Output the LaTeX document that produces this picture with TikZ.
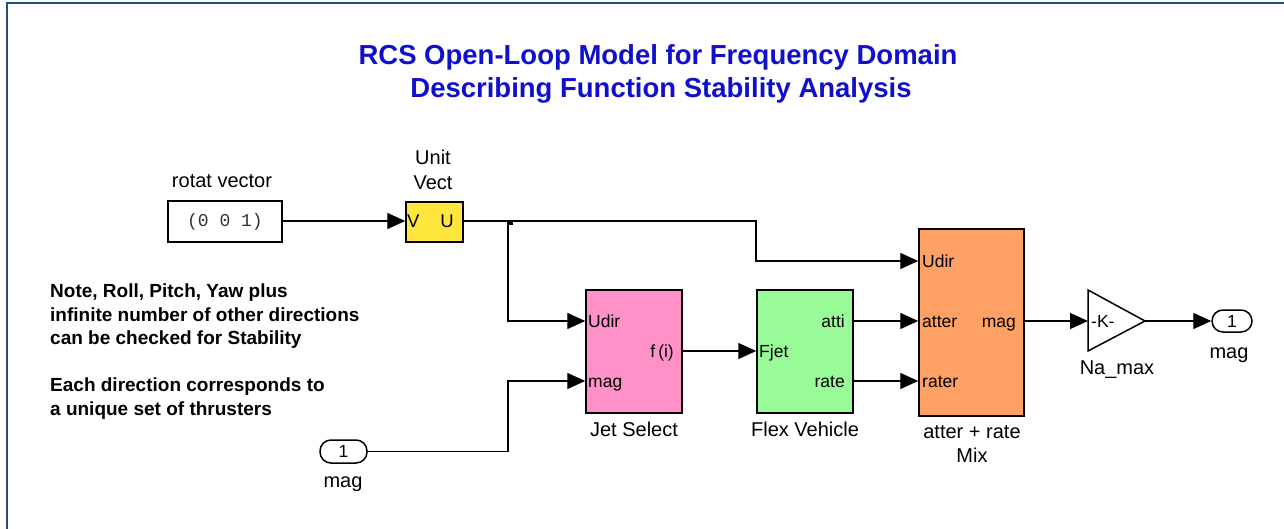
\documentclass[tikz,border=0pt]{standalone}
\usepackage{fontspec}
\setmainfont{Liberation Sans}
\setmonofont{Liberation Mono}
\usetikzlibrary{arrows.meta,calc}
\definecolor{framec}{RGB}{31,78,128}
\definecolor{titlec}{RGB}{16,16,204}
\definecolor{uvfill}{RGB}{255,230,60}
\definecolor{jsfill}{RGB}{255,145,200}
\definecolor{fvfill}{RGB}{152,251,152}
\definecolor{mixfill}{RGB}{255,160,100}

\begin{document}
\begin{tikzpicture}[x=1pt,y=-1pt,
  blk/.style={draw, line width=1.5pt, inner sep=0pt},
  wire/.style={line width=1.4pt},
  sig/.style={wire, -{Triangle[length=18pt,width=16pt]}},
  lbl/.style={inner sep=0pt, anchor=base, font=\fontsize{20}{24}\selectfont},
  port/.style={inner sep=0pt, text height=12pt, text depth=0pt, font=\fontsize{17.5}{20}\selectfont},
  note/.style={inner sep=0pt, anchor=base west, font=\fontsize{19}{23}\selectfont\bfseries},
  title/.style={inner sep=0pt, anchor=base, text=titlec, font=\fontsize{27.5}{32}\selectfont\bfseries},
  term/.style={draw, line width=1.5pt, rounded corners=11pt, inner sep=0pt,
    text height=12pt, text depth=0pt, font=\fontsize{17.5}{20}\selectfont},
]
\useasboundingbox (0,0) rectangle (1284,529);

% outer frame (open towards the right and bottom)
\draw[framec, line width=2.4pt] (7,540) -- (7,3) -- (1295,3);

% title
\node[title] (t1) at (658,65) {RCS Open-Loop Model for Frequency Domain};
\node[title] (t2) at (661,98) {Describing Function Stability Analysis};

% note text
\node[note] (n1) at (50,297) {Note, Roll, Pitch, Yaw plus};
\node[note] (n2) at (50,321) {infinite number of other directions};
\node[note] (n3) at (50,344) {can be checked for Stability};
\node[note] (n4) at (50,391) {Each direction corresponds to};
\node[note] (n5) at (50,415) {a unique set of thrusters};

% constant source
\node[blk, minimum width=114pt, minimum height=41pt, fill=white,
      font=\fontsize{18}{20}\ttfamily\selectfont, text=black!80] (cst) at (225,221.5) {(0 0 1)};
\node[lbl] (cstl) at (222,188) {rotat vector};

% unit vector block
\node[blk, fill=uvfill, minimum width=57pt, minimum height=40pt] (uv) at (434.5,222) {};
\node[port, anchor=west, font=\fontsize{18.5}{20}\selectfont] (uvV) at (407,222) {V};
\node[port, anchor=east, font=\fontsize{18.5}{20}\selectfont] (uvU) at (454,222) {U};
\node[lbl] (uvl1) at (433,165) {Unit};
\node[lbl] (uvl2) at (433,190) {Vect};

% jet select
\node[blk, fill=jsfill, minimum width=96pt, minimum height=123pt] (js) at (634,351.5) {};
\node[port, anchor=west] (jsU) at (588,321) {Udir};
\node[port, anchor=west] (jsM) at (588,381) {mag};
\node[port, anchor=east] (jsF) at (674,351) {f\,(i)};
\node[lbl] (jsl) at (634,436) {Jet Select};

% flex vehicle
\node[blk, fill=fvfill, minimum width=96pt, minimum height=123pt] (fv) at (805,351.5) {};
\node[port, anchor=west] (fvJ) at (759,351) {Fjet};
\node[port, anchor=east] (fvA) at (845,321) {atti};
\node[port, anchor=east] (fvR) at (845,381) {rate};
\node[lbl] (fvl) at (805,436) {Flex Vehicle};

% atter + rate mix
\node[blk, fill=mixfill, minimum width=105pt, minimum height=187pt] (mix) at (971.5,322.5) {};
\node[port, anchor=west] (mxU) at (922,261) {Udir};
\node[port, anchor=west] (mxA) at (922,321) {atter};
\node[port, anchor=west] (mxR) at (922,381) {rater};
\node[port, anchor=east] (mxM) at (1016,321) {mag};
\node[lbl] (mxl1) at (972,438) {atter + rate};
\node[lbl] (mxl2) at (972,462) {Mix};

% gain
\coordinate (gin) at (1088,321);
\coordinate (gout) at (1145,321);
\draw[line width=1.5pt, line join=miter] (1088,290) -- (gout) -- (1088,351) -- cycle;
\node[port, anchor=west] (gk) at (1091,321) {-K-};
\node[lbl] (gl) at (1117,374) {Na\_max};

% in / out ports
\node[term, minimum width=47pt, minimum height=23pt] (inp) at (343.5,451.5) {1};
\node[lbl] (inpl) at (343,487) {mag};
\node[term, minimum width=40pt, minimum height=22pt] (outp) at (1232,321) {1};
\node[lbl] (outpl) at (1229,358) {mag};

% branch point
\node[fill, inner sep=0pt, minimum size=5pt] (br) at (510,223) {};
\coordinate (bj) at (508,221);

% signal lines
\draw[sig] (cst.east |- 0,221) -- (uv.west |- 0,221);
\draw[sig] (uv.east |- bj) -- (756,221) |- (mix.west |- mxU);
\draw[sig] (bj) |- (js.west |- jsU);
\draw[sig] (inp.east) -- (inp.east -| bj) |- (js.west |- jsM);
\draw[sig] (js.east |- jsF) -- (fv.west |- fvJ);
\draw[sig] (fv.east |- fvA) -- (mix.west |- mxA);
\draw[sig] (fv.east |- fvR) -- (mix.west |- mxR);
\draw[sig] (mix.east |- mxM) -- (gin);
\draw[sig] (gout) -- (outp.west);
\end{tikzpicture}
\end{document}
